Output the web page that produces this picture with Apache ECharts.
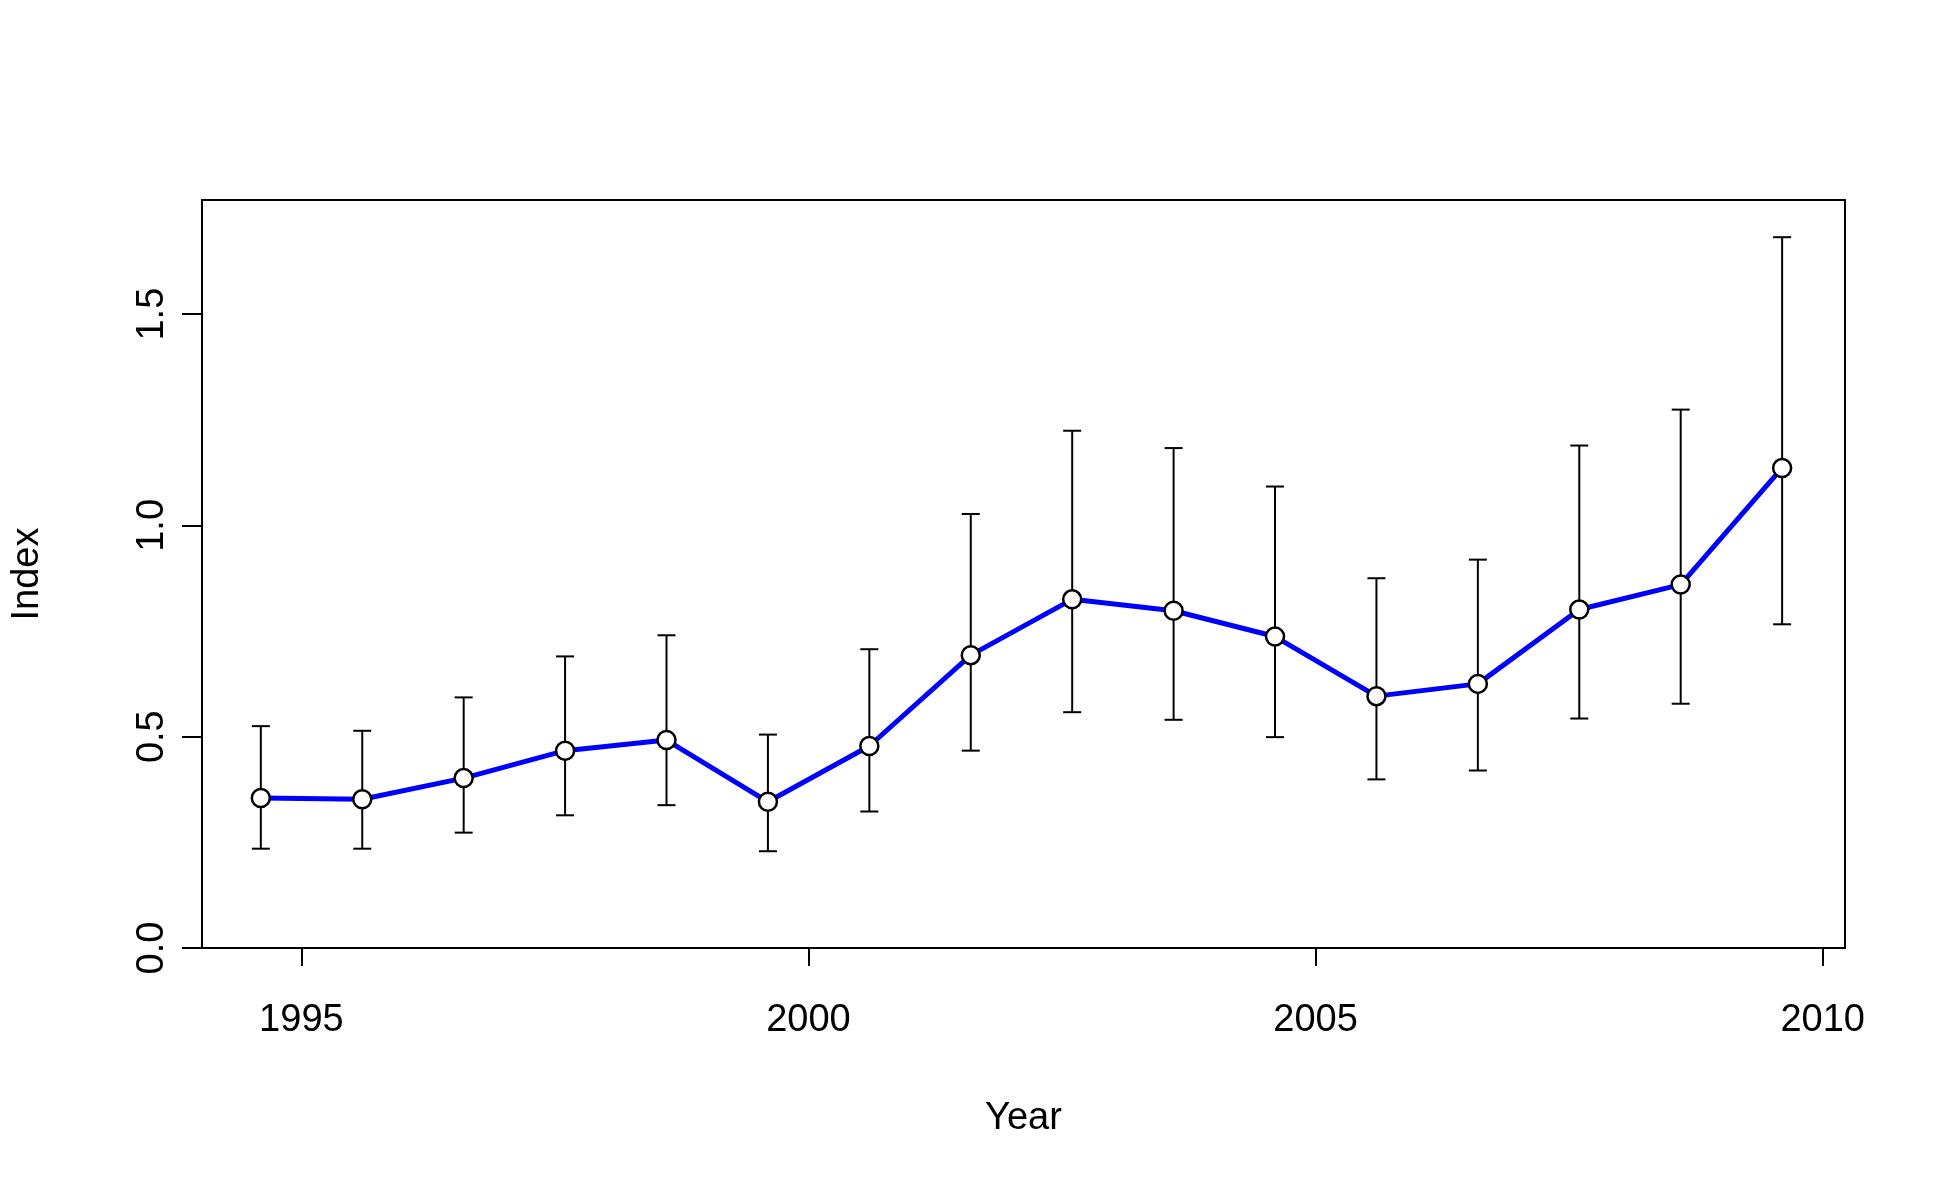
<!DOCTYPE html>
<html><head><meta charset="utf-8">
<script src="https://cdn.jsdelivr.net/npm/echarts@6/dist/echarts.min.js"></script>
<style>html,body{margin:0;padding:0;background:#fff}#c{width:1950px;height:1200px}</style>
</head><body><div id="c"></div>
<script>
const years = [1994.6,1995.6,1996.6,1997.6,1998.6,1999.6,2000.6,2001.6,2002.6,2003.6,2004.6,2005.6,2006.6,2007.6,2008.6,2009.6];
const index = [0.355,0.352,0.402,0.467,0.492,0.346,0.478,0.693,0.825,0.798,0.737,0.596,0.625,0.801,0.86,1.136];
const lower = [0.235,0.235,0.273,0.314,0.338,0.229,0.323,0.467,0.558,0.54,0.499,0.399,0.42,0.543,0.578,0.766];
const upper = [0.525,0.514,0.593,0.69,0.74,0.505,0.707,1.027,1.224,1.183,1.092,0.875,0.919,1.189,1.274,1.682];
const xTicks = [1995,2000,2005,2010];
const yTicks = [0,0.5,1,1.5];

const F = 'Liberation Sans, Arial, sans-serif';
const chart = echarts.init(document.getElementById('c'));
chart.setOption({
  animation:false,
  grid:{left:202,right:105,top:200,bottom:252,show:true,borderColor:'#000',borderWidth:2,backgroundColor:'transparent'},
  xAxis:{type:'value',min:1994.02,max:2010.22,
    name:'Year',nameLocation:'middle',nameGap:152,nameTextStyle:{fontFamily:F,fontSize:38,color:'#000'},
    axisLine:{show:false},splitLine:{show:false},
    axisTick:{show:true,customValues:xTicks,length:18,lineStyle:{color:'#000',width:2}},
    axisLabel:{customValues:xTicks,fontFamily:F,fontSize:38,color:'#000',margin:54,formatter:v=>String(v)}},
  yAxis:{type:'value',min:0,max:1.77,
    name:'Index',nameLocation:'middle',nameGap:155,nameTextStyle:{fontFamily:F,fontSize:38,color:'#000'},
    axisLine:{show:false},splitLine:{show:false},
    axisTick:{show:true,customValues:yTicks,length:20,lineStyle:{color:'#000',width:2}},
    axisLabel:{customValues:yTicks,rotate:90,fontFamily:F,fontSize:38,color:'#000',margin:30,formatter:v=>v.toFixed(1)}},
  series:[
    {type:'custom',data:years.map((y,i)=>[y,lower[i],upper[i]]),z:1,
     renderItem:(p,api)=>{
       const x=api.value(0),lo=api.coord([x,api.value(1)]),hi=api.coord([x,api.value(2)]);
       const w=9,s={stroke:'#000',lineWidth:2};
       return {type:'group',children:[
         {type:'line',shape:{x1:lo[0],y1:lo[1],x2:hi[0],y2:hi[1]},style:s},
         {type:'line',shape:{x1:lo[0]-w,y1:lo[1],x2:lo[0]+w,y2:lo[1]},style:s},
         {type:'line',shape:{x1:hi[0]-w,y1:hi[1],x2:hi[0]+w,y2:hi[1]},style:s}]};
     }},
    {type:'line',data:years.map((y,i)=>[y,index[i]]),showSymbol:false,z:2,
     lineStyle:{color:'#0000ff',width:5}},
    {type:'scatter',data:years.map((y,i)=>[y,index[i]]),symbol:'circle',symbolSize:18,z:3,
     itemStyle:{color:'#fff',borderColor:'#000',borderWidth:2.5,opacity:1}}
  ]
});
</script></body></html>
